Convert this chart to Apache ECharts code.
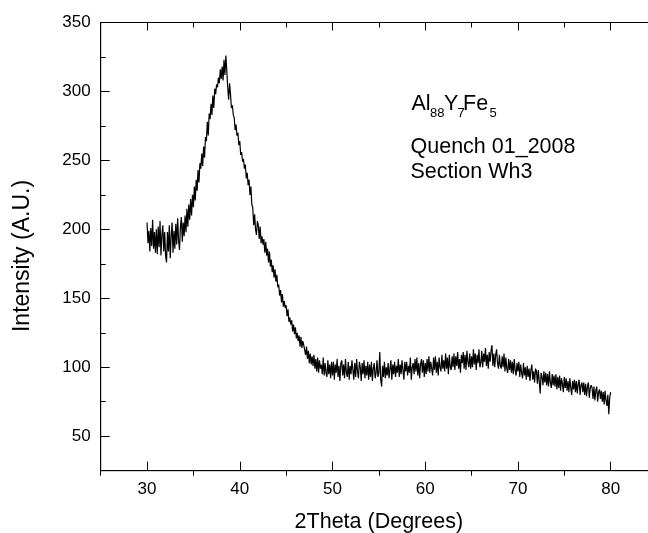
<!DOCTYPE html>
<html>
<head>
<meta charset="utf-8">
<script src="https://cdn.jsdelivr.net/npm/echarts@6/dist/echarts.min.js"></script>
<style>
html,body{margin:0;padding:0;background:#fff;}
#chart{width:648px;height:533px;}
</style>
</head>
<body>
<div id="chart"></div>
<script>
// ---- data ----
const xStart = 30.0;   // first 2Theta sample
const xStep = 0.1;     // 2Theta step between samples
const intensity = [
  205,190,199,184,201,188,207,186,198,183,
  200,182,202,187,206,181,196,203,184,198,
  181,176,198,184,203,179,195,205,183,199,
  186,204,189,208,192,185,202,209,191,205,
  195,210,198,215,202,218,207,222,210,225,
  216,231,221,236,228,243,234,248,244,255,
  246,260,252,267,264,278,268,284,280,291,
  283,297,288,302,298,305,303,310,306,316,
  309,318,308,323,312,326,315,303,294,306,
  298,288,290,283,281,272,276,268,270,261,
  264,254,256,249,251,244,247,237,241,232,
  236,225,231,218,216,203,211,200,196,206,
  203,193,202,190,195,189,193,183,191,181,
  186,176,184,173,178,169,174,165,171,162,
  167,158,160,152,156,147,153,144,148,143,
  145,137,142,133,136,131,134,126,131,124,
  129,121,125,119,123,115,122,114,119,116,
  117,109,115,106,112,103,110,102,108,101,
  109,99,106,97,107,96,105,99,102,95,
  107,94,103,96,93,105,95,102,92,104,
  94,104,91,102,96,106,93,101,90,103,
  105,94,102,92,106,96,93,104,91,101,
  95,105,98,91,103,93,106,97,92,104,
  100,90,103,95,105,92,101,94,104,91,
  102,93,104,90,99,103,92,96,105,93,
  96,111,91,86,101,93,104,92,100,94,
  103,92,99,105,91,102,95,104,93,101,
  96,106,93,102,95,105,98,91,104,97,
  104,94,101,96,107,91,100,103,95,106,
  97,107,94,103,92,102,106,96,105,93,
  103,95,106,97,108,96,104,99,94,107,
  98,108,96,104,94,107,100,97,109,99,
  105,97,110,99,107,95,109,100,98,108,
  100,110,98,108,101,111,99,106,96,109,
  103,111,99,109,98,112,104,100,110,99,
  108,100,113,102,110,98,109,103,113,100,
  103,112,100,110,104,114,101,109,99,111,
  104,112,116,101,110,100,109,113,103,99,
  109,101,99,108,100,110,97,107,99,96,
  106,98,105,96,104,95,106,98,94,103,
  97,104,93,102,96,92,103,94,100,91,
  101,93,99,90,98,102,91,97,89,99,
  97,88,98,90,81,96,93,87,97,89,
  96,87,95,86,97,89,85,95,87,94,
  86,95,84,93,85,94,83,92,88,82,
  93,85,92,83,90,82,92,85,80,90,
  84,91,82,90,81,88,91,80,87,89,
  82,89,80,88,79,86,89,78,85,87,
  85,77,86,76,83,86,75,82,84,77,
  83,75,82,73,83,76,72,80,66,78,
  82
];
const xRange = [25, 85];
const yRange = [25, 350];
const xMajorTicks = [30, 40, 50, 60, 70, 80];
const xMinorTicks = [25, 35, 45, 55, 65, 75, 85];
const yMajorTicks = [50, 100, 150, 200, 250, 300, 350];
const yMinorTicks = [75, 125, 175, 225, 275, 325];
const xTitle = '2Theta (Degrees)';
const yTitle = 'Intensity (A.U.)';
const noteLines = ['Quench 01_2008', 'Section Wh3'];

// ---- chart ----
const FONT = '"Liberation Sans", Arial, sans-serif';
const seriesData = intensity.map((v, i) => [+(xStart + i * xStep).toFixed(2), v]);

function ls() { return { color: '#000', width: 1 }; }
function xAx(pos, ticks, len, inside, labels, extra) {
  return Object.assign({
    type: 'value', position: pos, min: xRange[0], max: xRange[1],
    axisLine: { show: true, onZero: false, lineStyle: ls() },
    axisTick: { show: true, inside: inside, length: len, customValues: ticks, lineStyle: ls() },
    axisLabel: labels ? { show: true, customValues: ticks, color: '#000', fontSize: 17, fontFamily: FONT, margin: 10 } : { show: false },
    splitLine: { show: false }, minorTick: { show: false }
  }, extra || {});
}
function yAx(pos, ticks, len, inside, labels) {
  return {
    type: 'value', position: pos, min: yRange[0], max: yRange[1],
    axisLine: { show: true, onZero: false, lineStyle: ls() },
    axisTick: { show: true, inside: inside, length: len, customValues: ticks, lineStyle: ls() },
    axisLabel: labels ? { show: true, customValues: ticks, color: '#000', fontSize: 17, fontFamily: FONT, margin: 10 } : { show: false },
    splitLine: { show: false }, minorTick: { show: false }
  };
}

const chart = echarts.init(document.getElementById('chart'), null, { renderer: 'canvas' });
chart.setOption({
  animation: false,
  backgroundColor: '#fff',
  grid: {
    left: 100.7, top: 22.5, right: -9, bottom: 62.3,
    containLabel: false, outerBoundsMode: 'none',
    show: true, borderColor: '#000', borderWidth: 1, backgroundColor: 'transparent'
  },
  xAxis: [
    xAx('bottom', xMajorTicks, 9, true, true, {
      name: xTitle, nameLocation: 'middle', nameGap: 40,
      nameTextStyle: { color: '#000', fontSize: 21.5, fontFamily: FONT }
    }),
    xAx('bottom', xMinorTicks, 5, false, false),
    xAx('top', xMajorTicks, 8, true, false),
    xAx('top', xMinorTicks, 5, true, false)
  ],
  yAxis: [
    yAx('left', yMajorTicks, 9, true, true),
    yAx('left', yMinorTicks, 5, true, false),
    yAx('right', yMajorTicks, 9, true, false),
    yAx('right', yMinorTicks, 5, true, false)
  ],
  series: [{
    type: 'line', xAxisIndex: 0, yAxisIndex: 0,
    data: seriesData, showSymbol: false, symbol: 'none',
    lineStyle: { color: '#000', width: 1.2 }, silent: true
  }],
  graphic: [
    { type: 'text', x: 23, y: 256, rotation: Math.PI / 2,
      style: { text: yTitle, fill: '#000', font: '23px ' + FONT, align: 'center', verticalAlign: 'middle' } },
    { type: 'group', children: [
      { type: 'text', x: 411.5, y: 104, style: { text: 'Al', fill: '#000', font: '21.5px ' + FONT, verticalAlign: 'middle' } },
      { type: 'text', x: 430, y: 113.5, style: { text: '88', fill: '#000', font: '13px ' + FONT, verticalAlign: 'middle' } },
      { type: 'text', x: 444, y: 104, style: { text: 'Y', fill: '#000', font: '21.5px ' + FONT, verticalAlign: 'middle' } },
      { type: 'text', x: 457.5, y: 113.5, style: { text: '7', fill: '#000', font: '13px ' + FONT, verticalAlign: 'middle' } },
      { type: 'text', x: 463, y: 104, style: { text: 'Fe', fill: '#000', font: '21.5px ' + FONT, verticalAlign: 'middle' } },
      { type: 'text', x: 489.5, y: 113.5, style: { text: '5', fill: '#000', font: '13px ' + FONT, verticalAlign: 'middle' } }
    ]},
    { type: 'text', x: 410.5, y: 147, style: { text: noteLines[0], fill: '#000', font: '21.5px ' + FONT, verticalAlign: 'middle' } },
    { type: 'text', x: 410.5, y: 172, style: { text: noteLines[1], fill: '#000', font: '21.5px ' + FONT, verticalAlign: 'middle' } }
  ]
});
</script>
</body>
</html>
